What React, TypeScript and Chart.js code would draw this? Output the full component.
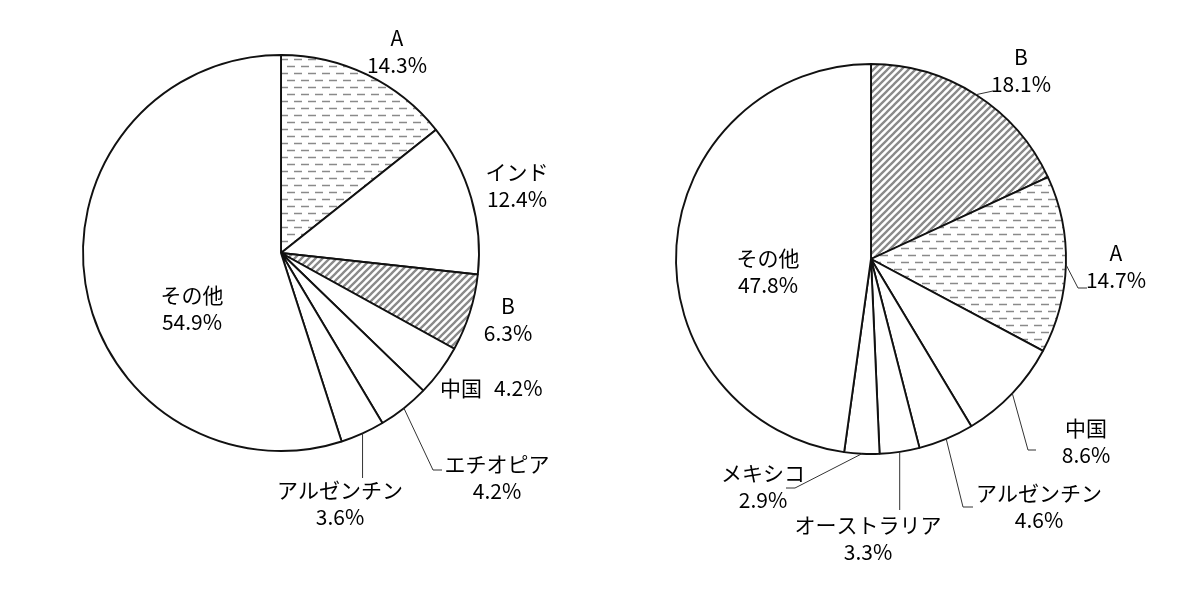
import React, { useEffect, useRef } from "react";
import { Chart, ArcElement, PieController } from "chart.js";

Chart.register(ArcElement, PieController);

// ---- data ----
const leftCategories = ["A", "インド", "B", "中国", "エチオピア", "アルゼンチン", "その他"];
const leftValues = [14.3, 12.4, 6.3, 4.2, 4.2, 3.6, 54.9];

const rightCategories = ["B", "A", "中国", "アルゼンチン", "オーストラリア", "メキシコ", "その他"];
const rightValues = [18.1, 14.7, 8.6, 4.6, 3.3, 2.9, 47.8];

// ---- label layout (relative to pie centre) ----
type Label = {
  tx: number;
  ty: number;
  single?: boolean;
  leader?: Array<[number | null, number]>;
};

const leftLabels: Label[] = [
  { tx: 116, ty: -215 },
  { tx: 236, ty: -81 },
  { tx: 227, ty: 53 },
  { tx: 159, ty: 135, single: true },
  { tx: 216, ty: 211, leader: [[152, 217], [161, 217]] },
  { tx: 59, ty: 237, leader: [[null, 225]] },
  { tx: -89, ty: 42 },
];

const rightLabels: Label[] = [
  { tx: 150, ty: -202, leader: [[122, -168]] },
  { tx: 245, ty: -6, leader: [[207, 29], [216, 29]] },
  { tx: 215, ty: 169, leader: [[157, 191], [165, 191]] },
  { tx: 168, ty: 234, leader: [[92, 248], [102, 248]] },
  { tx: -3, ty: 266, leader: [[null, 251]] },
  { tx: -108, ty: 214, leader: [[-76, 229], [-85, 229]] },
  { tx: -103, ty: -1 },
];

const FONT = '21px "Noto Sans CJK JP", "Noto Sans", sans-serif';
const LINE_GAP = 27;

function makeDashPattern(): CanvasPattern | string {
  const c = document.createElement("canvas");
  c.width = 14;
  c.height = 14;
  const g = c.getContext("2d");
  if (!g) return "#fff";
  g.fillStyle = "#fff";
  g.fillRect(0, 0, 14, 14);
  g.strokeStyle = "#8a8a8a";
  g.lineWidth = 1.6;
  g.beginPath();
  g.moveTo(0, 3.5);
  g.lineTo(8, 3.5);
  g.moveTo(7, 10.5);
  g.lineTo(14, 10.5);
  g.moveTo(0, 10.5);
  g.lineTo(1, 10.5);
  g.stroke();
  const p = g.createPattern(c, "repeat");
  return p || "#fff";
}

function makeStripePattern(): CanvasPattern | string {
  const s = 7;
  const c = document.createElement("canvas");
  c.width = s;
  c.height = s;
  const g = c.getContext("2d");
  if (!g) return "#fff";
  g.fillStyle = "#fff";
  g.fillRect(0, 0, s, s);
  g.strokeStyle = "#8a8a8a";
  g.lineWidth = 2.3;
  g.beginPath();
  g.moveTo(-1, s + 1);
  g.lineTo(s + 1, -1);
  g.moveTo(-1, 1);
  g.lineTo(1, -1);
  g.moveTo(s - 1, s + 1);
  g.lineTo(s + 1, s - 1);
  g.stroke();
  const p = g.createPattern(c, "repeat");
  return p || "#fff";
}

function fillFor(cat: string, dash: any, stripe: any) {
  if (cat === "A") return dash;
  if (cat === "B") return stripe;
  return "#ffffff";
}

function labelPlugin(categories: string[], values: number[], labels: Label[]) {
  return {
    id: "pieLabels",
    afterDraw(chart: any) {
      const ctx = chart.ctx as CanvasRenderingContext2D;
      const meta = chart.getDatasetMeta(0);
      ctx.save();
      ctx.font = FONT;
      ctx.fillStyle = "#000";
      ctx.textBaseline = "middle";
      meta.data.forEach((arc: any, i: number) => {
        const lab = labels[i];
        if (!lab) return;
        const cx = arc.x;
        const cy = arc.y;
        const mid = (arc.startAngle + arc.endAngle) / 2;
        const ax = cx + arc.outerRadius * Math.cos(mid);
        const ay = cy + arc.outerRadius * Math.sin(mid);
        if (lab.leader) {
          ctx.strokeStyle = "#333";
          ctx.lineWidth = 1;
          ctx.beginPath();
          ctx.moveTo(ax, ay);
          lab.leader.forEach(([px, py]) => {
            ctx.lineTo(px === null ? ax : cx + px, cy + py);
          });
          ctx.stroke();
        }
        const pct = values[i].toFixed(1) + "%";
        if (lab.single) {
          ctx.textAlign = "left";
          const x0 = cx + lab.tx;
          ctx.fillText(categories[i], x0, cy + lab.ty);
          const w = ctx.measureText(categories[i]).width;
          ctx.fillText(pct, x0 + w + 12, cy + lab.ty);
        } else {
          ctx.textAlign = "center";
          ctx.fillText(categories[i], cx + lab.tx, cy + lab.ty);
          ctx.fillText(pct, cx + lab.tx, cy + lab.ty + LINE_GAP);
        }
      });
      ctx.restore();
    },
  };
}

function makePie(
  canvas: HTMLCanvasElement,
  categories: string[],
  values: number[],
  labels: Label[],
  padding: { left: number; right: number; top: number; bottom: number },
  radius: number
) {
  const dash = makeDashPattern();
  const stripe = makeStripePattern();
  return new Chart(canvas, {
    type: "pie",
    data: {
      labels: categories,
      datasets: [
        {
          data: values,
          backgroundColor: categories.map((c) => fillFor(c, dash, stripe)),
          borderColor: "#111",
          borderWidth: 1.9,
        },
      ],
    },
    options: {
      responsive: false,
      animation: false,
      radius: radius,
      layout: { padding },
      plugins: {
        legend: { display: false },
        tooltip: { enabled: false },
      },
      events: [],
    } as any,
    plugins: [labelPlugin(categories, values, labels)],
  });
}

export default function App() {
  const leftRef = useRef<HTMLCanvasElement | null>(null);
  const rightRef = useRef<HTMLCanvasElement | null>(null);

  useEffect(() => {
    const charts: Chart[] = [];
    if (leftRef.current) {
      charts.push(
        makePie(leftRef.current, leftCategories, leftValues, leftLabels, { left: 0, top: 0, right: 38, bottom: 94 }, 198)
      );
    }
    if (rightRef.current) {
      charts.push(
        makePie(rightRef.current, rightCategories, rightValues, rightLabels, { left: 0, top: 0, right: 58, bottom: 82 }, 195)
      );
    }
    return () => charts.forEach((c) => c.destroy());
  }, []);

  return (
    <div style={{ position: "fixed", left: 0, top: 0, width: 1200, height: 600, background: "#fff" }}>
      <canvas ref={leftRef} width={600} height={600} style={{ position: "absolute", left: 0, top: 0, width: 600, height: 600 }} />
      <canvas ref={rightRef} width={600} height={600} style={{ position: "absolute", left: 600, top: 0, width: 600, height: 600 }} />
    </div>
  );
}
